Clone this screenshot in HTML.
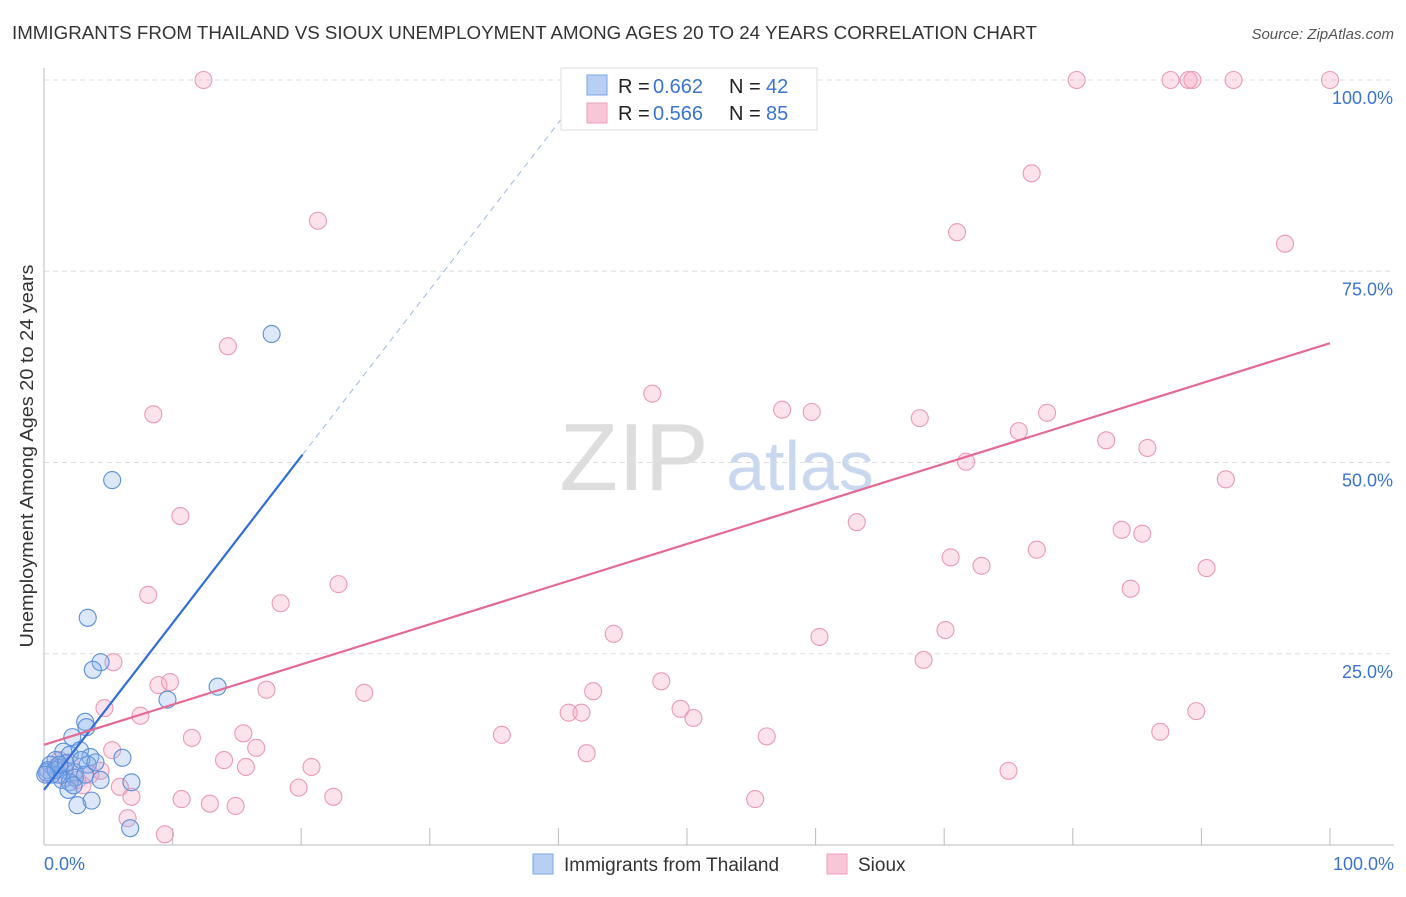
<!DOCTYPE html>
<html><head><meta charset="utf-8"><style>
body{margin:0;background:#fff;font-family:"Liberation Sans",sans-serif}
svg text{font-family:"Liberation Sans",sans-serif}
</style></head><body>
<svg id="c" width="1406" height="892">
<text x="12" y="39" font-size="18" fill="#333" textLength="1025" lengthAdjust="spacingAndGlyphs">IMMIGRANTS FROM THAILAND VS SIOUX UNEMPLOYMENT AMONG AGES 20 TO 24 YEARS CORRELATION CHART</text>
<text x="1394" y="39" font-size="15" fill="#555" text-anchor="end" font-style="italic">Source: ZipAtlas.com</text>
<text x="33" y="456" font-size="18" fill="#333" text-anchor="middle" textLength="383" lengthAdjust="spacingAndGlyphs" transform="rotate(-90 33 456)">Unemployment Among Ages 20 to 24 years</text>
<text x="634" y="490" font-size="96" fill="#ddd" font-family="Liberation Serif" text-anchor="middle">ZIP</text>
<text x="800" y="490" font-size="70" fill="#c9d8ee" text-anchor="middle">atlas</text>
<g id="grid"></g><g id="pts"></g><g id="lines"></g>
<g>
<rect x="561" y="68" width="256" height="62" fill="#fff" stroke="#ddd"/>
<rect x="587" y="75" width="20" height="20" fill="#b6cff3" stroke="#7aa6e6"/>
<rect x="587" y="103" width="20" height="20" fill="#f8c6d6" stroke="#f0a0ba"/>
<text x="618" y="93" font-size="20" fill="#222">R =</text>
<text x="653" y="93" font-size="20" fill="#3a74d0">0.662</text>
<text x="729" y="93" font-size="20" fill="#222">N =</text>
<text x="766" y="93" font-size="20" fill="#3a74d0">42</text>
<text x="618" y="120" font-size="20" fill="#222">R =</text>
<text x="653" y="120" font-size="20" fill="#3a74d0">0.566</text>
<text x="729" y="120" font-size="20" fill="#222">N =</text>
<text x="766" y="120" font-size="20" fill="#3a74d0">85</text>
</g>
<g>
<rect x="533" y="854" width="20" height="20" fill="#b6cff3" stroke="#7aa6e6"/>
<text x="564" y="871" font-size="19" fill="#333">Immigrants from Thailand</text>
<rect x="827" y="854" width="20" height="20" fill="#f8c6d6" stroke="#f0a0ba"/>
<text x="858" y="871" font-size="19" fill="#333">Sioux</text>
</g>
</svg>
<script>
const yTicks=[25,50,75,100];
const yTickLabels=["25.0%","50.0%","75.0%","100.0%"];
const xTicks=[0,10,20,30,40,50,60,70,80,90,100];
const blueX=[5.3,3.4,4.4,3.8,2.2,3.2,3.3,2.8,1.5,2.0,0.9,0.5,0.3,1.2,1.6,2.4,3.6,3.4,2.4,1.4,2.0,1.1,6.1,6.8,2.6,3.7,6.7,9.6,13.5,17.7,0.6,0.2,0.9,1.7,2.9,1.9,2.3,3.2,4.0,1.2,4.4,0.1];
const blueY=[47.7,29.7,23.9,22.9,14.1,16.1,15.4,12.4,12.2,11.8,11.1,10.5,9.8,10.1,9.8,9.5,11.5,10.5,8.8,8.5,8.2,9.2,11.4,8.2,5.2,5.8,2.2,19.0,20.7,66.8,9.2,9.5,9.8,10.7,11.1,7.2,7.8,9.2,10.8,10.5,8.5,9.2];
const pinkX=[12.4,55.7,80.3,87.6,89.0,89.3,92.5,100,21.3,76.8,71.0,96.5,14.3,8.5,47.3,57.4,59.7,68.1,75.8,78.0,82.6,85.8,71.7,91.9,10.6,63.2,83.8,85.4,70.5,77.2,72.9,90.4,8.1,22.9,18.4,84.5,44.3,60.3,70.1,5.4,68.4,8.9,9.8,48.0,17.3,42.7,24.9,4.7,7.5,40.8,41.8,49.5,50.5,15.5,11.5,35.6,56.2,86.8,89.6,16.5,42.2,14.0,15.7,20.8,75.0,4.4,5.9,19.8,3.0,6.8,22.5,10.7,12.9,14.9,55.3,6.5,9.4,1.2,0.9,2.0,3.6,2.6,1.7,0.3,5.3];
const pinkY=[100,100,100,100,100,100,100,100,81.6,87.8,80.1,78.6,65.2,56.3,59.0,56.9,56.6,55.8,54.1,56.5,52.9,51.9,50.1,47.8,43.0,42.2,41.2,40.7,37.6,38.6,36.5,36.2,32.7,34.1,31.6,33.5,27.6,27.2,28.1,23.9,24.2,20.9,21.3,21.4,20.3,20.1,19.9,17.9,16.9,17.3,17.3,17.8,16.6,14.6,14.0,14.4,14.2,14.8,17.5,12.7,12.0,11.1,10.2,10.2,9.7,9.7,7.6,7.5,7.8,6.3,6.3,6.0,5.4,5.1,6.0,3.5,1.4,11.1,10.1,10.8,9.2,8.5,8.8,9.2,12.4];
const blueFit=[7.2,2.18], pinkFit=[13.1,0.525];
const sx=v=>44+v*12.86, sy=v=>845-v*7.65;
const NS="http://www.w3.org/2000/svg";
function mk(t,a,p){const e=document.createElementNS(NS,t);for(const k in a)e.setAttribute(k,a[k]);p.appendChild(e);return e;}
const grid=document.getElementById('grid');
yTicks.forEach((t,i)=>{
 const l=mk('line',{x1:44,x2:1394,y1:sy(t),y2:sy(t),stroke:'#ddd','stroke-dasharray':'5 4'},grid);
 
 
 const tx=mk('text',{x:1393,y:sy(t)+24,'font-size':18,fill:'#3a74d0','text-anchor':'end'},grid);
 tx.textContent=yTickLabels[i];
 
 
});
mk('line',{x1:44,x2:44,y1:68,y2:845,stroke:'#bbb'},grid);
mk('line',{x1:44,x2:1394,y1:845,y2:845,stroke:'#bbb'},grid);
xTicks.forEach(t=>{const l=mk('line',{x1:sx(t),x2:sx(t),y1:828,y2:845,stroke:'#bbb'},grid);
 
 });
[["0.0%",44,'start'],["100.0%",1394,'end']].forEach(([s,x,a])=>{const t=mk('text',{x:x,y:870,'font-size':18,fill:'#3a74d0','text-anchor':a},grid);t.textContent=s;
 
 });
const pts=document.getElementById('pts');
pinkX.forEach((x,i)=>{const c=mk('circle',{cx:sx(x),cy:sy(pinkY[i]),r:8.5,fill:'rgba(244,160,188,0.3)',stroke:'#eb9ab4','stroke-width':1.1},pts);
 
 });
blueX.forEach((x,i)=>{const c=mk('circle',{cx:sx(x),cy:sy(blueY[i]),r:8.5,fill:'rgba(140,180,235,0.3)',stroke:'#5b8fdc','stroke-width':1.1},pts);
 
 });
const L=document.getElementById('lines');
const bx1=20.1, bx2=(100-blueFit[0])/blueFit[1];
let e=mk('line',{x1:sx(0),y1:sy(blueFit[0]),x2:sx(bx1),y2:sy(blueFit[0]+blueFit[1]*bx1),stroke:'#2f6fd6','stroke-width':2.2},L);


e=mk('line',{x1:sx(bx1),y1:sy(blueFit[0]+blueFit[1]*bx1),x2:sx(bx2),y2:sy(100),stroke:'#9bb8e6','stroke-width':1,'stroke-dasharray':'6 5'},L);


e=mk('line',{x1:sx(0),y1:sy(pinkFit[0]),x2:sx(100),y2:sy(pinkFit[0]+pinkFit[1]*100),stroke:'#e46a95','stroke-width':2.2},L);


</script>
</body></html>
